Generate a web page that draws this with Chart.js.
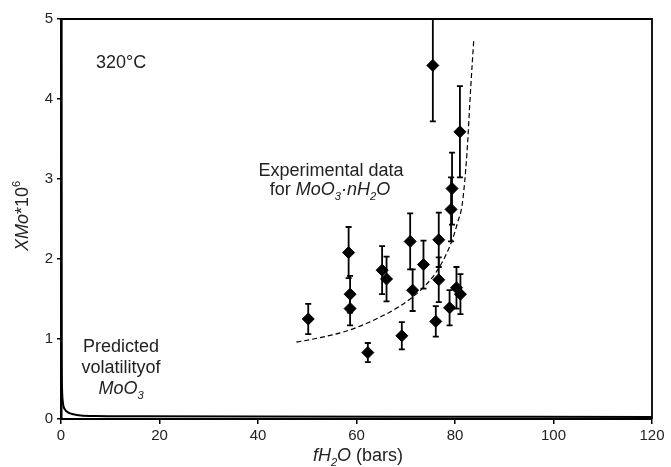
<!DOCTYPE html>
<html>
<head>
<meta charset="utf-8">
<script src="https://cdn.jsdelivr.net/npm/chart.js@4.4.1/dist/chart.umd.min.js"></script>
<style>
  body { margin: 0; background: #fff; }
  #wrap { width: 671px; height: 467px; }
</style>
</head>
<body>
<div id="wrap"><canvas id="chartMoO3" width="671" height="467"></canvas></div>
<script>
/* Datos experimentales MoO3·nH2O (fH2O en bars, XMo*10^6) */
const expX = [50.2, 58.4, 58.7, 58.7, 62.3, 65.2, 66.1, 69.2, 70.9, 71.4, 73.6,
              75.5, 76.1, 76.7, 76.7, 78.9, 79.2, 79.4, 80.3, 81.0, 81.1];
const expY = [1.25, 2.08, 1.56, 1.38, 0.83, 1.86, 1.75, 1.04, 2.22, 1.61, 1.93,
              4.42, 1.22, 2.24, 1.74, 1.39, 2.62, 2.88, 1.64, 3.59, 1.56];
const expErr = [0.19, 0.32, 0.23, 0.21, 0.12, 0.30, 0.28, 0.17, 0.35, 0.26, 0.30,
                0.70, 0.19, 0.34, 0.28, 0.22, 0.40, 0.45, 0.26, 0.57, 0.25];

/* Curva discontinua (ajuste de los datos experimentales) */
const fitX = [47.8, 52, 58, 64, 68, 71.5, 74, 76, 78, 79.5, 80.5, 81.5, 82.4, 83.2, 83.8];
const fitY = [0.96, 1.01, 1.10, 1.25, 1.38, 1.53, 1.67, 1.82, 2.03, 2.25, 2.45, 2.70, 3.30, 4.15, 4.73];

/* Volatilidad predicha de MoO3 */
const predX = [0.05, 0.1, 0.2, 0.4, 0.8, 1.5, 2.5, 4, 7, 15, 40, 80, 120];
const predY = [5, 1.2, 0.4, 0.2, 0.12, 0.08, 0.06, 0.045, 0.038, 0.035, 0.03, 0.028, 0.025];

/* Ejes */
const xMin = 0, xMax = 120, xStep = 20;
const yMin = 0, yMax = 5, yStep = 1;

const toPoints = (xs, ys) => xs.map((x, i) => ({ x: x, y: ys[i] }));

const FONT = '"Liberation Sans", Arial, sans-serif';
const TEXT = '#222';

/* Texto con cursiva, subindices y superindices */
drawRich = (ctx, segs, x, y, size, align) => {
  const fontOf = (s) => {
    let sz = s.sub || s.sup ? size * 0.62 : size;
    return (s.italic ? 'italic ' : '') + sz + 'px ' + FONT;
  };
  let total = 0;
  segs.forEach((s) => {
    ctx.font = fontOf(s);
    s.w = ctx.measureText(s.t).width;
    total += s.w;
  });
  let cx = align === 'center' ? x - total / 2 : x;
  ctx.textAlign = 'left';
  ctx.textBaseline = 'alphabetic';
  ctx.fillStyle = TEXT;
  segs.forEach((s) => {
    ctx.font = fontOf(s);
    let dy = s.sub ? size * 0.25 : s.sup ? -size * 0.45 : 0;
    ctx.fillText(s.t, cx, y + dy);
    cx += s.w;
  });
};

/* Barras de error */
const errorBars = {
  id: 'errorBars',
  beforeDatasetsDraw(chart) {
    const ctx = chart.ctx;
    const xs = chart.scales.x;
    const ys = chart.scales.y;
    const a = chart.chartArea;
    ctx.save();
    ctx.beginPath();
    ctx.rect(a.left, a.top, a.right - a.left, a.bottom - a.top);
    ctx.clip();
    ctx.strokeStyle = '#000';
    ctx.lineWidth = 1.8;
    for (let i in expX) {
      let px = xs.getPixelForValue(expX[i]);
      let top = ys.getPixelForValue(expY[i] + expErr[i]);
      let bot = ys.getPixelForValue(expY[i] - expErr[i]);
      ctx.beginPath();
      ctx.moveTo(px, top);
      ctx.lineTo(px, bot);
      ctx.moveTo(px - 3, top);
      ctx.lineTo(px + 3, top);
      ctx.moveTo(px - 3, bot);
      ctx.lineTo(px + 3, bot);
      ctx.stroke();
    }
    ctx.restore();
  },
};

/* Marco, titulos de ejes y anotaciones */
const labels = {
  id: 'labels',
  afterDraw(chart) {
    const ctx = chart.ctx;
    const a = chart.chartArea;
    ctx.save();
    ctx.strokeStyle = '#000';
    ctx.lineWidth = 1.8;
    ctx.beginPath();
    ctx.moveTo(a.left, a.top);
    ctx.lineTo(a.right, a.top);
    ctx.lineTo(a.right, a.bottom);
    ctx.stroke();

    drawRich(ctx, [{ t: '320°C' }], 96, 68, 18, 'left');

    drawRich(ctx, [{ t: 'Experimental data' }], 331, 176, 18, 'center');
    drawRich(ctx, [
      { t: 'for ' },
      { t: 'MoO', italic: true },
      { t: '3', italic: true, sub: true },
      { t: '·', italic: true },
      { t: 'nH', italic: true },
      { t: '2', italic: true, sub: true },
      { t: 'O', italic: true },
    ], 330, 195, 18, 'center');

    drawRich(ctx, [{ t: 'Predicted' }], 121, 352, 18, 'center');
    drawRich(ctx, [{ t: 'volatilityof' }], 121, 373, 18, 'center');
    drawRich(ctx, [
      { t: 'MoO', italic: true },
      { t: '3', italic: true, sub: true },
    ], 121, 394, 18, 'center');

    /* titulo eje x */
    drawRich(ctx, [
      { t: 'fH', italic: true },
      { t: '2', italic: true, sub: true },
      { t: 'O', italic: true },
      { t: ' (bars)' },
    ], 358, 461, 18, 'center');

    /* titulo eje y */
    ctx.translate(28, 216);
    ctx.rotate(-Math.PI / 2);
    drawRich(ctx, [
      { t: 'XMo', italic: true },
      { t: '*10' },
      { t: '6', sup: true },
    ], 0, 0, 18, 'center');
    ctx.restore();
  },
};

const ctx = document.getElementById('chartMoO3').getContext('2d');
const chartMoO3 = new Chart(ctx, {
  type: 'scatter',
  plugins: [errorBars, labels],
  data: {
    datasets: [
      {
        data: toPoints(predX, predY),
        showLine: true,
        borderColor: '#000',
        borderWidth: 2,
        pointRadius: 0,
        cubicInterpolationMode: 'monotone',
        order: 3,
      },
      {
        data: toPoints(fitX, fitY),
        showLine: true,
        borderColor: '#000',
        borderWidth: 1.2,
        borderDash: [5, 3],
        pointRadius: 0,
        cubicInterpolationMode: 'monotone',
        order: 2,
      },
      {
        data: toPoints(expX, expY),
        pointStyle: 'rectRot',
        pointRadius: 6,
        backgroundColor: '#000',
        borderColor: '#000',
        borderWidth: 1,
        order: 1,
      },
    ],
  },
  options: {
    responsive: false,
    animation: false,
    layout: { padding: { top: 19, right: 19, left: 0, bottom: 0 } },
    scales: {
      x: {
        type: 'linear',
        min: xMin,
        max: xMax,
        afterFit: (s) => { s.height = 48; },
        ticks: { stepSize: xStep, color: TEXT, font: { family: FONT, size: 15 }, padding: 3 },
        grid: { drawOnChartArea: false, tickLength: 5, color: '#000', lineWidth: 1.5 },
        border: { color: '#000', width: 2 },
      },
      y: {
        type: 'linear',
        min: yMin,
        max: yMax,
        afterFit: (s) => { s.width = 61; },
        ticks: { stepSize: yStep, color: TEXT, font: { family: FONT, size: 15 }, padding: 4 },
        grid: { drawOnChartArea: false, tickLength: 4, color: '#000', lineWidth: 1.5 },
        border: { color: '#000', width: 2.5 },
      },
    },
    plugins: {
      legend: { display: false },
      tooltip: { enabled: false },
    },
  },
});
</script>
</body>
</html>
